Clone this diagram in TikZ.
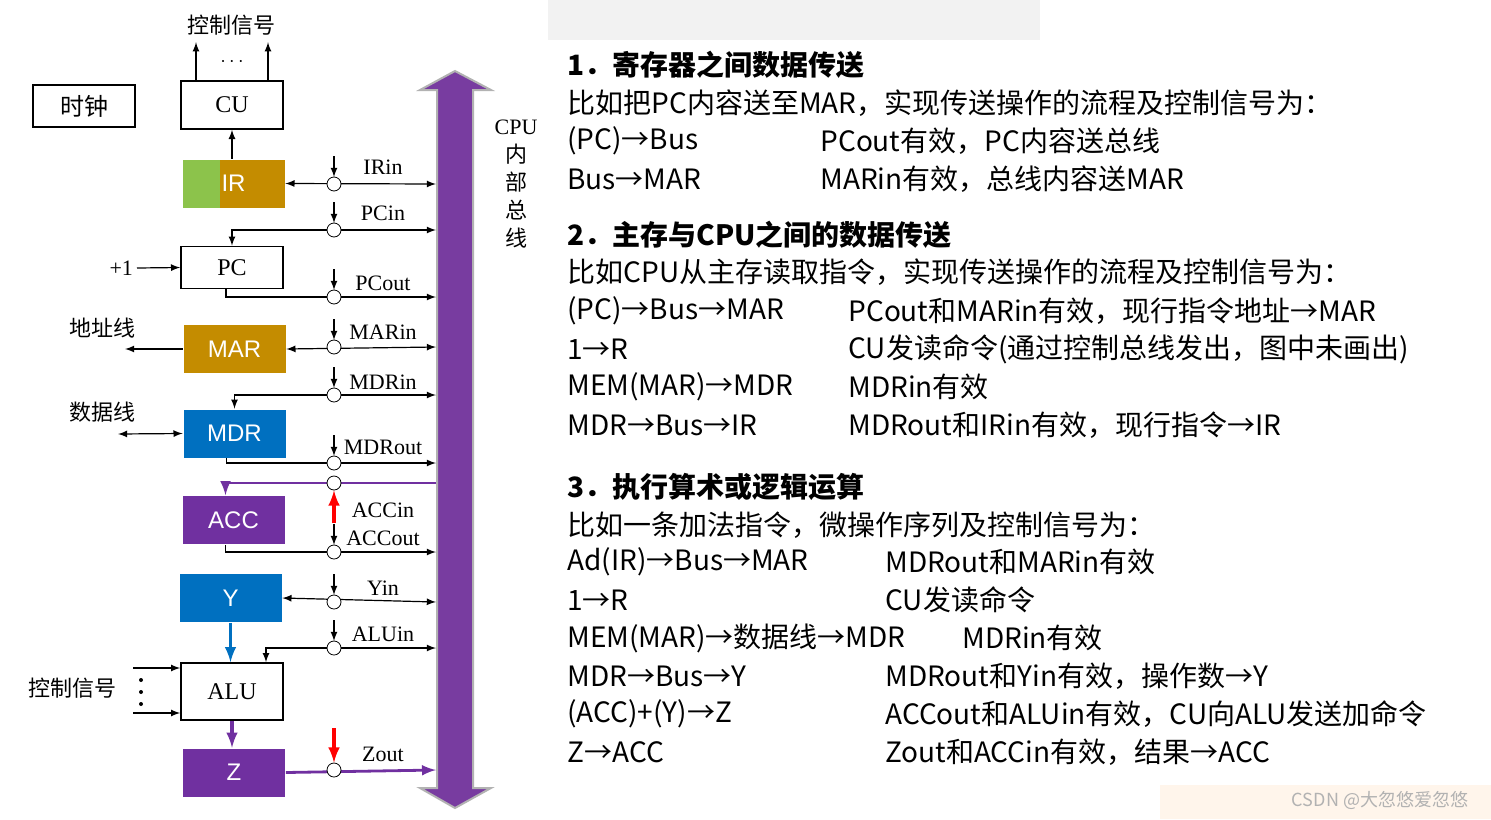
\documentclass[tikz,border=0pt]{standalone}
\usepackage{fontspec}
\setmainfont{Liberation Serif}
\newfontfamily\cjk{Noto Sans CJK SC}
\newfontfamily\boxfont{Liberation Sans}
\usetikzlibrary{arrows}
\definecolor{irgold}{RGB}{196,140,0}
\definecolor{irgreen}{RGB}{140,195,75}
\definecolor{regblue}{RGB}{0,112,192}
\definecolor{regpurple}{RGB}{112,48,160}
\definecolor{buspurple}{RGB}{120,60,160}
\begin{document}
\begin{tikzpicture}[x=0.5pt,y=-0.5pt,
  reg/.style={draw, thick, minimum width=51pt, minimum height=24pt, inner sep=0pt, font=\fontsize{12}{12}\selectfont},
  creg/.style={reg, draw=none, text=white, font=\boxfont\fontsize{12}{12}\selectfont},
  gate/.style={draw, circle, fill=white, minimum size=7pt, inner sep=0pt},
  sig/.style={font=\fontsize{11}{11}\selectfont, inner sep=0pt},
  line/.style={semithick},
  hot/.style={red, line width=1.6pt, -latex},
  txt/.style={anchor=west, inner sep=0pt, font=\cjk\fontsize{14}{16}\selectfont}]
\useasboundingbox (0,0) rectangle (1491,819);
\fill[gray!10] (548,0) rectangle (1040,40); % blurred strip
\fill[orange!8] (1160,785) rectangle (1491,819);

% internal bus
\filldraw[fill=buspurple, draw=gray!60, line width=1pt] (437,90) -- (420,90) -- (455,71) -- (491,90) -- (473,90)
  -- (473,788) -- (491,788) -- (455,808) -- (420,788) -- (437,788) -- cycle;
\node[align=center, font=\cjk\fontsize{11}{14}\selectfont] (busname) at (516,184) {{\rmfamily CPU}\\内\\部\\总\\线};

% registers
\node[reg] (cu) at (232,105) {CU};
\node[reg, minimum height=21pt] (clk) at (84,106) {\cjk 时钟};
\node[creg, fill=irgold, path picture={\fill[irgreen] (path picture bounding box.north west) rectangle ++(37,60);}] (ir) at (233.5,183.5) {IR};
\node[reg, minimum height=21pt] (pc) at (232,267.5) {PC};
\node[creg, fill=irgold] (mar) at (234.5,349) {MAR};
\node[creg, fill=regblue] (mdr) at (234.5,433.5) {MDR};
\node[creg, fill=regpurple] (acc) at (233.5,520) {ACC};
\node[creg, fill=regblue] (yreg) at (230.5,598) {Y};
\node[reg, minimum height=28.5pt] (alu) at (232,691.5) {ALU};
\node[creg, fill=regpurple] (zreg) at (234,772.5) {Z};

% gates and bus ends
\foreach \g/\y in {IRin/184, PCin/230, PCout/297, MARin/347, MDRin/395, MDRout/463, ACCin/483, ACCout/552, Yin/602, ALUin/648, Zout/770}{
  \coordinate (b\g) at (436,\y);
  \coordinate (g\g) at (334,\y);
}
\draw[line, latex-latex] (ir.east) -- (bIRin);
\draw[line, latex-latex] (pc.north) |- (bPCin);
\draw[line, -latex] ([xshift=-3pt]pc.south) |- (bPCout);
\draw[line, latex-latex] (mar.east) -- (bMARin);
\draw[line, latex-latex] (mdr.north) |- (bMDRin);
\draw[line, -latex] ([xshift=-4pt]mdr.south) |- (bMDRout);
\draw[regpurple, line width=1.4pt, -latex] (bACCin) -| ([xshift=-4pt]acc.north);
\draw[line, -latex] ([xshift=-4pt]acc.south) |- (bACCout);
\draw[line, latex-latex] (yreg.east) -- (bYin);
\draw[line, latex-latex] ([xshift=17pt]alu.north) |- (bALUin);
\draw[regpurple, line width=1.4pt, -latex] (zreg.east) -- (bZout);
\draw[regblue, line width=1.6pt, -latex] (yreg.south) -- (yreg.south |- alu.north);
\draw[regpurple, line width=1.6pt, -latex] (alu.south) -- (alu.south |- zreg.north);
\draw[line, -latex] (ir.north -| cu.south) -- (cu.south);

% control ticks
\foreach \g in {IRin, PCin, PCout, MARin, MDRin, MDRout, ACCout, Yin, ALUin}
  \draw[line, -latex] ([yshift=14pt]g\g) -- ([yshift=3.5pt]g\g);
\foreach \g in {IRin, PCin, PCout, MARin, MDRin, MDRout, ACCin, ACCout, Yin, ALUin, Zout}
  \node[gate] (n\g) at (g\g) {};
\draw[hot] ([yshift=-20pt]gACCin) -- (nACCin.south);
\draw[hot] ([yshift=21pt]gZout) -- (nZout.north);

% signal names
\foreach \g/\t/\y in {IRin/IRin/167, PCin/PCin/213, PCout/PCout/283, MARin/MARin/332, MDRin/MDRin/382, MDRout/MDRout/447, ACCin/ACCin/510, ACCout/ACCout/538, Yin/Yin/588, ALUin/ALUin/634, Zout/Zout/754}
  \node[sig] (l\g) at (383,\y) {\t};

% outside connections
\coordinate (addr) at (125,349);
\coordinate (data) at (118,434);
\coordinate (plus) at (137,268);
\coordinate (cs1) at (133,668);
\coordinate (cs2) at (133,713);
\draw[line, -latex] (mar.west) -- (addr);
\draw[line, latex-latex] (data) -- (mdr.west);
\draw[line, -latex] (plus) -- (pc.west);
\draw[line, -latex] (cs1) -- (cs1 -| alu.west);
\draw[line, -latex] (cs2) -- (cs2 -| alu.west);
\foreach \y in {680,692,704} \fill (141,\y) circle (1pt);
\draw[line, -latex] ([xshift=-18pt]cu.north) -- ++(0,-38);
\draw[line, -latex] ([xshift=18pt]cu.north) -- ++(0,-38);
\node[font=\bfseries] (dots) at (232,62) {$\cdots$};
\node[font=\cjk\fontsize{11}{11}\selectfont] (ctop) at (231,25) {控制信号};
\node[font=\cjk\fontsize{11}{11}\selectfont] (cbot) at (72,688) {控制信号};
\node[font=\cjk\fontsize{11}{11}\selectfont] (addrl) at (102,328) {地址线};
\node[font=\cjk\fontsize{11}{11}\selectfont] (datal) at (102,412) {数据线};
\node[sig, anchor=east] (plusl) at (plus) {+1\,};

% right hand text
\foreach \y/\a in {65/1．寄存器之间数据传送, 235/2．主存与CPU之间的数据传送, 487/3．执行算术或逻辑运算}
  \node[txt, font=\cjk\bfseries\fontsize{14}{16}\selectfont] at (567,\y) {\a};
\foreach \y/\a in {103/比如把PC内容送至MAR，实现传送操作的流程及控制信号为：, 272/比如CPU从主存读取指令，实现传送操作的流程及控制信号为：, 525/比如一条加法指令，微操作序列及控制信号为：}
  \node[txt] at (567,\y) {\a};
\foreach \y/\a/\xb/\b in {141/(PC)→Bus/820/PCout有效，PC内容送总线, 179/Bus→MAR/820/MARin有效，总线内容送MAR,
  311/(PC)→Bus→MAR/848/PCout和MARin有效，现行指令地址→MAR, 349/1→R/848/CU发读命令(通过控制总线发出，图中未画出),
  387/MEM(MAR)→MDR/848/MDRin有效, 425/MDR→Bus→IR/848/MDRout和IRin有效，现行指令→IR,
  562/Ad(IR)→Bus→MAR/885/MDRout和MARin有效, 600/1→R/885/CU发读命令,
  638/MEM(MAR)→数据线→MDR/962/MDRin有效, 676/MDR→Bus→Y/885/MDRout和Yin有效，操作数→Y,
  714/(ACC)+(Y)→Z/885/ACCout和ALUin有效，CU向ALU发送加命令, 752/Z→ACC/885/Zout和ACCin有效，结果→ACC}{
  \node[txt] at (567,\y) {\a};
  \node[txt] at (\xb,\y) {\b};
}
\node[font=\cjk\fontsize{9}{10}\selectfont, text=gray!60] (mark) at (1380,800) {CSDN @大忽悠爱忽悠};
\end{tikzpicture}
\end{document}
